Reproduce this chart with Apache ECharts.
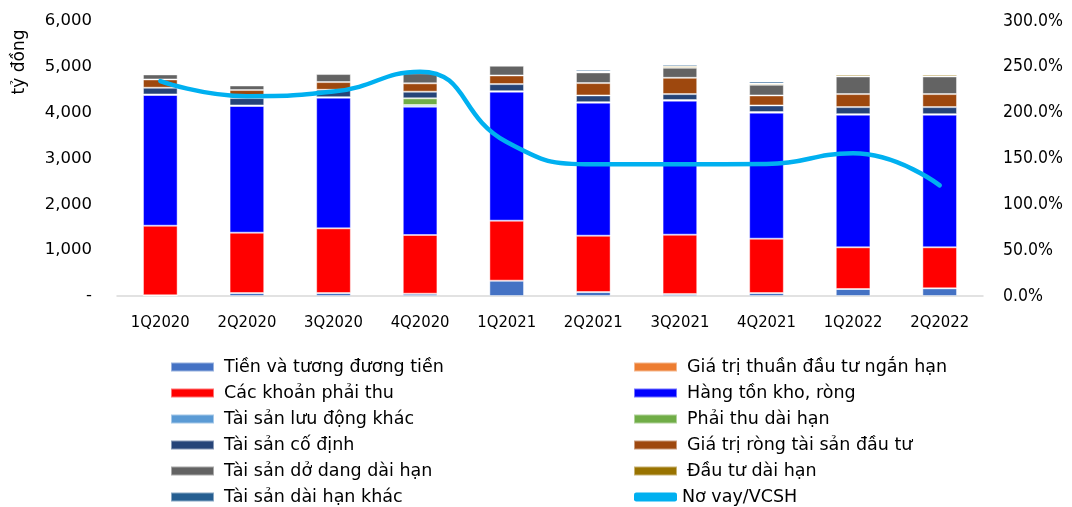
<!DOCTYPE html>
<html>
<head>
<meta charset="utf-8">
<script src="https://cdn.jsdelivr.net/npm/echarts@6/dist/echarts.min.js"></script>
<style>
  html, body { margin: 0; padding: 0; background: #fff; }
  #chart { width: 1072px; height: 507px; }
</style>
</head>
<body>
<div id="chart"></div>
<script>
// quý
const quarters = ["1Q2020", "2Q2020", "3Q2020", "4Q2020", "1Q2021", "2Q2021", "3Q2021", "4Q2021", "1Q2022", "2Q2022"];

// tỷ đồng
const cash = [15, 65, 65, 50, 335, 87, 44, 65, 153, 167];
const shortInvest = [0, 0, 0, 0, 0, 0, 0, 0, 0, 0];
const receivables = [1519, 1317, 1411, 1281, 1309, 1229, 1294, 1186, 909, 895];
const inventory = [2852, 2764, 2851, 2800, 2814, 2902, 2924, 2749, 2894, 2894];
const otherCurrent = [12, 12, 12, 35, 12, 12, 12, 12, 12, 12];
const longReceivables = [0, 0, 0, 146, 0, 0, 0, 0, 0, 0];
const fixedAssets = [146, 160, 160, 146, 153, 146, 131, 146, 153, 153];
const investProperty = [181, 175, 168, 182, 189, 269, 356, 218, 284, 284];
const constructionWip = [109, 100, 175, 218, 211, 233, 218, 233, 385, 385];
const longInvest = [20, 20, 25, 30, 22, 22, 36, 29, 36, 36];
const otherLongTerm = [5, 5, 8, 10, 8, 36, 36, 44, 22, 22];

// %
const debtToEquity = [234.5, 218, 223, 244.7, 168, 143.6, 143.6, 144, 155.6, 120.7];

const leftTicks = [0, 1000, 2000, 3000, 4000, 5000, 6000];

const FONT = "'DejaVu Sans', sans-serif";
const FONT_NARROW = "'DejaVu Sans Condensed', 'DejaVu Sans', sans-serif";

const barDefs = [
  ["Tiền và tương đương tiền", cash, "#4472C4"],
  ["Giá trị thuần đầu tư ngắn hạn", shortInvest, "#ED7D31"],
  ["Các khoản phải thu", receivables, "#FF0000"],
  ["Hàng tồn kho, ròng", inventory, "#0000FF"],
  ["Tài sản lưu động khác", otherCurrent, "#5B9BD5"],
  ["Phải thu dài hạn", longReceivables, "#70AD47"],
  ["Tài sản cố định", fixedAssets, "#264478"],
  ["Giá trị ròng tài sản đầu tư", investProperty, "#9E480E"],
  ["Tài sản dở dang dài hạn", constructionWip, "#636363"],
  ["Đầu tư dài hạn", longInvest, "#997300"],
  ["Tài sản dài hạn khác", otherLongTerm, "#255E91"],
];

const series = barDefs.map(([name, data, color]) => ({
  name: name,
  type: "bar",
  stack: "assets",
  barWidth: "40%",
  data: data,
  itemStyle: {
    color: color,
    borderColor: "rgba(255,255,255,0.45)",
    borderWidth: 1,
  },
}));

series.push({
  name: "Nơ vay/VCSH",
  type: "line",
  yAxisIndex: 1,
  smooth: true,
  symbol: "none",
  data: debtToEquity,
  lineStyle: { color: "#00B0F0", width: 4.5, cap: "round" },
  itemStyle: { color: "#00B0F0" },
  z: 5,
});

// chú thích 2 cột, mỗi cột 6 dòng
const legendBase = {
  orient: "vertical",
  top: 358,
  padding: 0,
  icon: "rect",
  itemWidth: 43,
  itemHeight: 9,
  itemGap: 8,
  textStyle: { fontFamily: FONT, fontSize: 17.5, color: "#000", lineHeight: 18, padding: [0, 0, 0, 5] },
};

const chart = echarts.init(document.getElementById("chart"));
chart.setOption({
  animation: false,
  textStyle: { fontFamily: FONT_NARROW },
  grid: { left: 117, right: 89, top: 21, bottom: 211 },
  legend: [
    Object.assign({}, legendBase, {
      left: 170,
      data: ["Tiền và tương đương tiền", "Các khoản phải thu", "Tài sản lưu động khác",
        "Tài sản cố định", "Tài sản dở dang dài hạn", "Tài sản dài hạn khác"],
    }),
    Object.assign({}, legendBase, {
      left: 633,
      data: ["Giá trị thuần đầu tư ngắn hạn", "Hàng tồn kho, ròng", "Phải thu dài hạn",
        "Giá trị ròng tài sản đầu tư", "Đầu tư dài hạn",
        {
          name: "Nơ vay/VCSH",
          icon: "roundRect",
          itemStyle: { color: "#00B0F0" },
          textStyle: { padding: [0, 0, 0, 0] },
        }],
    }),
  ],
  xAxis: {
    type: "category",
    data: quarters,
    axisLine: { lineStyle: { color: "#D9D9D9", width: 1.5 } },
    axisTick: { show: false },
    axisLabel: { color: "#000", fontFamily: FONT_NARROW, fontSize: 16.5, margin: 18 },
  },
  yAxis: [
    {
      type: "value",
      min: leftTicks[0],
      max: leftTicks[leftTicks.length - 1],
      interval: 1000,
      splitLine: { show: false },
      axisLine: { show: false },
      axisTick: { show: false },
      axisLabel: {
        color: "#000",
        fontFamily: FONT,
        fontSize: 16.5,
        margin: 25,
        formatter: (v) => (v === 0 ? "-" : v.toLocaleString("en-US")),
      },
    },
    {
      type: "value",
      min: 0,
      max: 300,
      interval: 50,
      splitLine: { show: false },
      axisLine: { show: false },
      axisTick: { show: false },
      axisLabel: {
        color: "#000",
        fontFamily: FONT_NARROW,
        fontSize: 17.5,
        margin: 20,
        formatter: (v) => v.toFixed(1) + "%",
      },
    },
  ],
  graphic: [
    {
      type: "text",
      x: 20,
      y: 62,
      rotation: Math.PI / 2,
      style: {
        text: "tỷ đồng",
        fontFamily: FONT,
        fontSize: 17,
        fill: "#000",
        align: "center",
        verticalAlign: "middle",
      },
    },
  ],
  series: series,
});
</script>
</body>
</html>
